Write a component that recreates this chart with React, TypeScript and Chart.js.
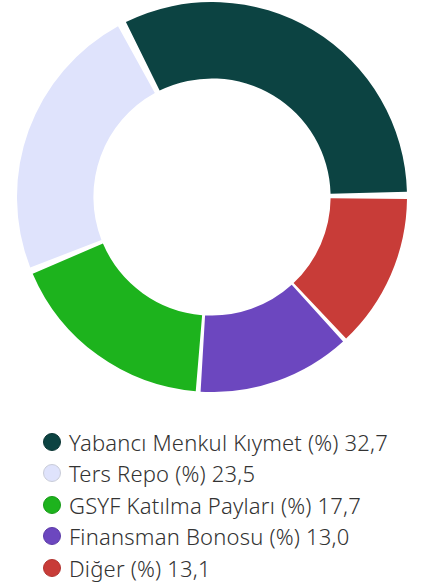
import React, { useEffect, useRef } from "react";
import { Chart, registerables } from "chart.js";

Chart.register(...registerables);

// Data in drawing order (clockwise from 3 o'clock)
const labels = ["Diğer", "Finansman Bonosu", "GSYF Katılma Payları", "Ters Repo", "Yabancı Menkul Kıymet"];
const values = [13.1, 13.0, 17.7, 23.5, 32.7];
const colors = ["#c83c38", "#6c47bf", "#1db31d", "#dfe3fc", "#0c4342"];
const markerBorders = ["#b23430", "#5d3ca8", "#189a18", "#c9ccd8", "#0a3534"];

const fmt = (v: number) => v.toFixed(1).replace(".", ",");

export default function App() {
  const ref = useRef<HTMLCanvasElement | null>(null);
  useEffect(() => {
    if (!ref.current) return;
    const chart = new Chart(ref.current, {
      type: "doughnut",
      data: {
        labels,
        datasets: [
          {
            data: values,
            backgroundColor: colors,
            borderWidth: 0,
            spacing: 8,
            hoverOffset: 0,
          },
        ],
      },
      options: {
        responsive: false,
        animation: false,
        rotation: 90,
        cutout: "60%",
        layout: { padding: 0 },
        plugins: {
          legend: { display: false },
          tooltip: { enabled: false },
        },
      },
    });
    return () => chart.destroy();
  }, []);

  const legendOrder = labels.map((_, i) => i).reverse();

  return (
    <div style={{ position: "absolute", left: 0, top: 0, width: 422, height: 584, background: "#fff" }}>
      <canvas
        ref={ref}
        width={390}
        height={390}
        style={{ position: "absolute", left: 17, top: 2, width: 390, height: 390 }}
      />
      <div
        style={{
          position: "absolute",
          left: 43,
          top: 426,
          fontFamily: "'Noto Sans', sans-serif",
          fontSize: 22,
          fontWeight: 300,
          letterSpacing: 0.2,
          color: "#333333",
        }}
      >
        {legendOrder.map((i) => (
          <div key={i} style={{ display: "flex", alignItems: "center", height: 31.5, whiteSpace: "nowrap" }}>
            <span
              style={{
                display: "inline-block",
                flex: "0 0 auto",
                width: 18,
                height: 18,
                borderRadius: "50%",
                background: colors[i],
                border: `1px solid ${markerBorders[i]}`,
                boxSizing: "border-box",
                marginRight: 8,
              }}
            />
            <span>{`${labels[i]} (%) ${fmt(values[i])}`}</span>
          </div>
        ))}
      </div>
    </div>
  );
}
